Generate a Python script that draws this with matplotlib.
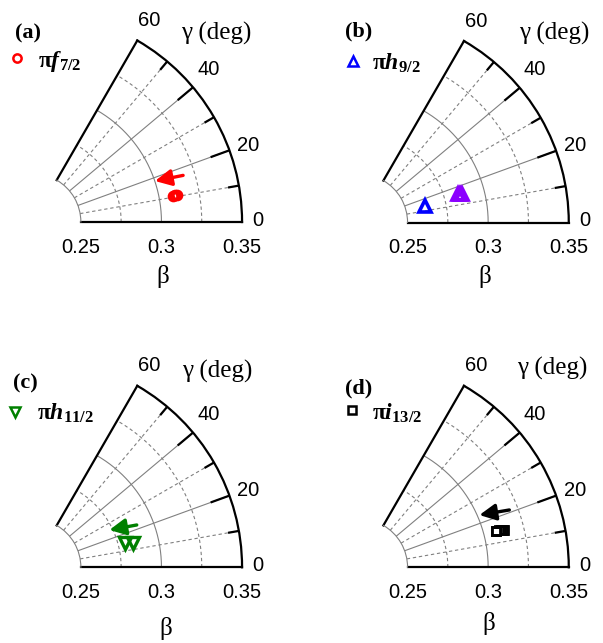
import numpy as np
import matplotlib
matplotlib.use("Agg")
import matplotlib.pyplot as plt
from matplotlib.transforms import offset_copy

plt.rcParams['mathtext.fontset'] = 'custom'
plt.rcParams['mathtext.rm'] = 'Liberation Serif'
plt.rcParams['mathtext.it'] = 'Liberation Serif:italic'
plt.rcParams['mathtext.bf'] = 'Liberation Serif:bold'
plt.rcParams['mathtext.bfit'] = 'Liberation Serif:bold:italic'

W, H = 603, 643
DPI = 100

# ---------------- data ----------------
panel_tags = ['(a)', '(b)', '(c)', '(d)']
legend_labels = [r'$\mathbf{\pi}\mathbfit{f}_{\mathbf{7/2}}$',
                 r'$\mathbf{\pi}\mathbfit{h}_{\mathbf{9/2}}$',
                 r'$\mathbf{\pi}\mathbfit{h}_{\mathbf{11/2}}$',
                 r'$\mathbf{\pi}\mathbfit{i}_{\mathbf{13/2}}$']
markers = ['o', '^', 'v', 's']
colors = ['red', 'blue', 'green', 'black']

# beta / gamma (deg) of the plotted points
a_beta = [0.3085, 0.3100, 0.3113]
a_gamma = [10.7, 10.6, 10.4]
b1_beta = [0.2621]
b1_gamma = [14.0]
b2_beta = [0.2840, 0.2852, 0.2864]
b2_gamma = [16.1, 15.8, 15.5]
c_beta = [0.2793, 0.2841]
c_gamma = [14.7, 13.6]
d_beta = [0.3100, 0.3110, 0.3120, 0.3130, 0.3078]
d_gamma = [14.8, 14.7, 14.6, 14.5, 14.9]

# arrows: (beta_tail, gamma_tail) -> (beta_head, gamma_head)
a_arrow = [(0.3178, 17.2), (0.3001, 18.5)]
c_arrow = [(0.2898, 22.1), (0.2730, 25.9)]
d_arrow = [(0.3197, 20.9), (0.3013, 23.5)]

beta_ticks = [0.25, 0.30, 0.35]
beta_ticklabels = ['0.25', '0.3', '0.35']
gamma_ticks = [0, 20, 40, 60]
gamma_ticklabels = ['0', '20', '40', '60']
gamma_minor = [10, 30, 50]

BMIN, BMAX, RORIG = 0.25, 0.35, 0.22

fig = plt.figure(figsize=(W / DPI, H / DPI), dpi=DPI)

SCALE = 1612.0  # px per unit beta
# panel polar-centre pixel positions (from top-left)
centres = [(32.5, 222.0), (359.2, 222.5), (32.5, 567.3), (359.2, 567.3)]


def make_ax(cx, cy):
    size = (BMAX - RORIG) * SCALE - (BMIN - RORIG) * SCALE * 0.5
    left = cx + (BMIN - RORIG) * SCALE * 0.5
    hgt = (BMAX - RORIG) * SCALE * np.sin(np.pi / 3)
    pad = (size - hgt) / 2
    bottom = cy + pad
    rect = [left / W, 1 - bottom / H, size / W, size / H]
    ax = fig.add_axes(rect, projection='polar')
    ax.set_thetamin(0)
    ax.set_thetamax(60)
    ax.set_rlim(BMIN, BMAX)
    ax.set_rorigin(RORIG)
    ax.set_xticks([])
    ax.set_yticks([])
    ax.grid(False)
    ax.spines['polar'].set_linewidth(1.6)
    ax.spines['start'].set_linewidth(1.6)
    ax.spines['end'].set_linewidth(1.6)
    ax.spines['inner'].set_linewidth(0.8)
    ax.spines['inner'].set_color('#808080')
    gcol = '#808080'
    th = np.linspace(0, np.pi / 3, 200)
    for r, ls in [(0.275, (0, (3, 2.5))), (0.30, '-'), (0.325, (0, (3, 2.5)))]:
        ax.plot(th, np.full_like(th, r), color=gcol, lw=0.8, ls=ls, zorder=1)
    rr = np.linspace(BMIN, BMAX, 50)
    for g in gamma_minor:
        ax.plot(np.full_like(rr, np.deg2rad(g)), rr, color=gcol, lw=0.8,
                ls=(0, (3, 2.5)), zorder=1)
    for g in gamma_ticks[1:-1]:
        ax.plot(np.full_like(rr, np.deg2rad(g)), rr, color=gcol, lw=0.8,
                ls='-', zorder=1)
    # ticks on outer arc
    for g in gamma_ticks[1:-1]:
        ax.plot([np.deg2rad(g)] * 2, [BMAX - 20 / SCALE, BMAX], color='black',
                lw=1.6, solid_capstyle='butt', zorder=3, clip_on=False)
    for g in gamma_minor:
        ax.plot([np.deg2rad(g)] * 2, [BMAX - 11 / SCALE, BMAX], color='black',
                lw=1.6, solid_capstyle='butt', zorder=3, clip_on=False)
    # gamma tick labels
    lab_r = [0.360, 0.362, 0.3645, 0.3645]
    lab_t = [0.4, 19.6, 41.0, 59.8]
    for lab, r, t in zip(gamma_ticklabels, lab_r, lab_t):
        ax.text(np.deg2rad(t), r, lab, ha='center', va='center',
                fontsize=14.5, family='Liberation Sans', clip_on=False)
    # beta tick labels
    tr = offset_copy(ax.transData, fig=fig, x=0, y=-25, units='dots')
    for b, lab in zip(beta_ticks, beta_ticklabels):
        ax.text(0, b, lab, transform=tr, ha='center', va='center',
                fontsize=14.5, family='Liberation Sans', clip_on=False)
    return ax


def fig_text(x, y, s, **kw):
    fig.text(x / W, 1 - y / H, s, **kw)


axes = [make_ax(cx, cy) for cx, cy in centres]

ms_kw = dict(ls='none', mfc='none', clip_on=False, zorder=5)
axes[0].plot(np.deg2rad(a_gamma), a_beta, marker='o', ms=6.2, mew=2.2, mec='red', **ms_kw)
axes[1].plot(np.deg2rad(b1_gamma), b1_beta, marker='^', ms=8, mew=2.6, mec='blue', **ms_kw)
axes[1].plot(np.deg2rad(b2_gamma), b2_beta, marker='^', ms=8, mew=2.6, mec='#8B00FF', **ms_kw)
axes[2].plot(np.deg2rad(c_gamma), c_beta, marker='v', ms=8, mew=2.4, mec='green', **ms_kw)
axes[3].plot(np.deg2rad(d_gamma), d_beta, marker='s', ms=6.0, mew=2.0, mec='black', **ms_kw)
axes[3].plot(np.deg2rad(d_gamma[-1:]), d_beta[-1:], marker='s', ms=6.0,
             mec='black', ls='none', mfc='white', mew=2.0, zorder=6)

for ax, arr, col in [(axes[0], a_arrow, 'red'), (axes[2], c_arrow, 'green'),
                     (axes[3], d_arrow, 'black')]:
    (bt, gt), (bh, gh) = arr
    ax.annotate('', xy=(np.deg2rad(gh), bh), xytext=(np.deg2rad(gt), bt),
                arrowprops=dict(arrowstyle='-|>,head_length=0.7,head_width=0.35',
                                lw=2.4, color=col, mutation_scale=14,
                                shrinkA=0, shrinkB=0), zorder=6)

# labels
tag_pos = [(27.5, 33), (358.3, 31), (25, 383), (358.3, 388)]
leg_mk = [(16.7, 58.3), (353.3, 60.7), (15, 411.7), (351.7, 410)]
leg_tx = [(38, 62), (371.7, 63.3), (36.7, 413), (371.7, 413.3)]
gam_pos = [(216, 33), (554, 33.3), (217.5, 371.7), (552.5, 368.3)]
bet_pos = [(162.3, 276.7), (485, 276.7), (165.7, 628.3), (488.3, 623.3)]
leg_ms = [7, 8, 8, 7]

for i in range(4):
    fig_text(*tag_pos[i], panel_tags[i], ha='center', va='center', fontsize=16,
             family='Liberation Serif', weight='bold')
    fig_text(*gam_pos[i], 'γ (deg)', ha='center', va='center', fontsize=18,
             family='Liberation Serif')
    fig_text(*bet_pos[i], 'β', ha='center', va='center', fontsize=18,
             family='Liberation Serif')
    fig_text(*leg_tx[i], legend_labels[i], ha='left', va='center', fontsize=17)
    x, y = leg_mk[i]
    fig.lines.append(matplotlib.lines.Line2D([x / W], [1 - y / H], marker=markers[i],
                     ms=leg_ms[i] * 0.85, mfc='none', mec=colors[i], mew=1.8,
                     ls='none', transform=fig.transFigure))

fig.savefig('out.png', dpi=DPI)
